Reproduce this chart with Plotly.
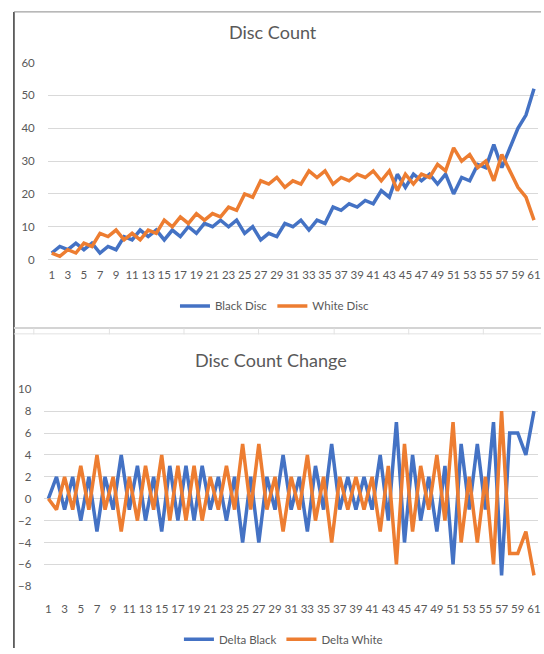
import plotly.graph_objects as go

moves = list(range(1, 62))

black_disc = [2, 4, 3, 5, 3, 5, 2, 4, 3, 7,
              6, 9, 7, 9, 6, 9, 7, 10, 8, 11,
              10, 12, 10, 12, 8, 10, 6, 8, 7, 11,
              10, 12, 9, 12, 11, 16, 15, 17, 16, 18,
              17, 21, 19, 26, 22, 26, 24, 26, 23, 26,
              20, 25, 24, 29, 28, 35, 28, 34, 40, 44,
              52]
white_disc = [2, 1, 3, 2, 5, 4, 8, 7, 9, 6,
              8, 6, 9, 8, 12, 10, 13, 11, 14, 12,
              14, 13, 16, 15, 20, 19, 24, 23, 25, 22,
              24, 23, 27, 25, 27, 23, 25, 24, 26, 25,
              27, 24, 27, 21, 26, 23, 26, 25, 29, 27,
              34, 30, 32, 28, 30, 24, 32, 27, 22, 19,
              12]
delta_black = [0, 2, -1, 2, -2, 2, -3, 2, -1, 4,
               -1, 3, -2, 2, -3, 3, -2, 3, -2, 3,
               -1, 2, -2, 2, -4, 2, -4, 2, -1, 4,
               -1, 2, -3, 3, -1, 5, -1, 2, -1, 2,
               -1, 4, -2, 7, -4, 4, -2, 2, -3, 3,
               -6, 5, -1, 5, -1, 7, -7, 6, 6, 4,
               8]
delta_white = [0, -1, 2, -1, 3, -1, 4, -1, 2, -3,
               2, -2, 3, -1, 4, -2, 3, -2, 3, -2,
               2, -1, 3, -1, 5, -1, 5, -1, 2, -3,
               2, -1, 4, -2, 2, -4, 2, -1, 2, -1,
               2, -3, 3, -6, 5, -3, 3, -1, 4, -2,
               7, -4, 2, -4, 2, -6, 8, -5, -5, -3,
               -7]

x_ticks = list(range(1, 62, 2))

BLUE = "#4472C4"
ORANGE = "#ED7D31"
GRID = "#D9D9D9"
TXT = "#595959"
FONT = "Lato"

W, H = 544, 654


def px(x):
    return x / W


def py(y):
    return 1 - y / H


fig = go.Figure()
fig.add_trace(go.Scatter(x=moves, y=black_disc, mode="lines", name="Black Disc",
                         line=dict(color=BLUE, width=3.5), xaxis="x", yaxis="y",
                         legend="legend"))
fig.add_trace(go.Scatter(x=moves, y=white_disc, mode="lines", name="White Disc",
                         line=dict(color=ORANGE, width=3.5), xaxis="x", yaxis="y",
                         legend="legend"))
fig.add_trace(go.Scatter(x=moves, y=delta_black, mode="lines", name="Delta Black",
                         line=dict(color=BLUE, width=3.5), xaxis="x2", yaxis="y2",
                         legend="legend2"))
fig.add_trace(go.Scatter(x=moves, y=delta_white, mode="lines", name="Delta White",
                         line=dict(color=ORANGE, width=3.5), xaxis="x2", yaxis="y2",
                         legend="legend2"))

tickfont = dict(family=FONT, size=11.5, color=TXT)

fig.update_layout(
    width=W, height=H,
    margin=dict(l=0, r=0, t=0, b=0),
    paper_bgcolor="white", plot_bgcolor="white",
    font=dict(family=FONT, color=TXT),
    xaxis=dict(domain=[px(48), px(541)], range=[0.5, 61.5], tickmode="array",
               tickvals=x_ticks, showgrid=False, zeroline=False, showline=False,
               anchor="y", tickfont=tickfont, ticks="", ticklabelstandoff=7),
    yaxis=dict(domain=[py(257.7), py(56.7)], range=[0, 60], dtick=10,
               gridcolor=GRID, gridwidth=1, zeroline=True, zerolinecolor=GRID,
               zerolinewidth=1, showline=False, anchor="x", tickfont=tickfont,
               ticks="", ticklabelstandoff=12),
    xaxis2=dict(domain=[px(44.6), px(541)], range=[0.5, 61.5], tickmode="array",
                tickvals=x_ticks, showgrid=False, zeroline=False, showline=False,
                anchor="y2", tickfont=tickfont, ticks="", ticklabelstandoff=14),
    yaxis2=dict(domain=[py(591), py(390)], range=[-8, 10], dtick=2,
                gridcolor=GRID, gridwidth=1, zeroline=True, zerolinecolor=GRID,
                zerolinewidth=1, showline=False, anchor="x2", tickfont=tickfont,
                ticks="", ticklabelstandoff=12),
    legend=dict(orientation="h", x=px(276), y=py(305), xanchor="center",
                yanchor="middle", font=dict(family=FONT, size=11.5, color=TXT),
                bgcolor="rgba(0,0,0,0)", itemwidth=30, tracegroupgap=0),
    legend2=dict(orientation="h", x=px(285), y=py(645), xanchor="center",
                 yanchor="middle", font=dict(family=FONT, size=11.5, color=TXT),
                 bgcolor="rgba(0,0,0,0)", itemwidth=30, tracegroupgap=0),
    annotations=[
        dict(text="Disc Count", x=px(275), y=py(26), xref="paper", yref="paper",
             showarrow=False, xanchor="center", yanchor="middle",
             font=dict(family=FONT, size=18, color=TXT)),
        dict(text="Disc Count Change", x=px(272), y=py(360), xref="paper", yref="paper",
             showarrow=False, xanchor="center", yanchor="middle",
             font=dict(family=FONT, size=18, color=TXT)),
    ],
)

shapes = [
    dict(type="line", xref="paper", yref="paper", x0=px(14), x1=px(14), y0=py(5), y1=py(654),
         line=dict(color="#3a3a3a", width=1.5)),
    dict(type="line", xref="paper", yref="paper", x0=px(14), x1=1, y0=py(5), y1=py(5),
         line=dict(color="#8a8a8a", width=1)),
    dict(type="line", xref="paper", yref="paper", x0=px(14), x1=1, y0=py(327.5), y1=py(327.5),
         line=dict(color="#D4D4D4", width=2)),
    dict(type="line", xref="paper", yref="paper", x0=px(14), x1=1, y0=py(333.5), y1=py(333.5),
         line=dict(color="#E2E2E2", width=1)),
]
for cx in [34, 110, 185, 260, 336, 411, 486]:
    shapes.append(dict(type="line", xref="paper", yref="paper", x0=px(cx), x1=px(cx),
                       y0=py(328), y1=py(334), line=dict(color="#E2E2E2", width=1)))
fig.update_layout(shapes=shapes)

post = ("document.body.style.margin='0';document.body.style.padding='0';"
        "document.body.style.overflow='hidden';"
        "document.documentElement.style.overflow='hidden';")
fig.write_html("out.html", post_script=post, config={"displayModeBar": False})
